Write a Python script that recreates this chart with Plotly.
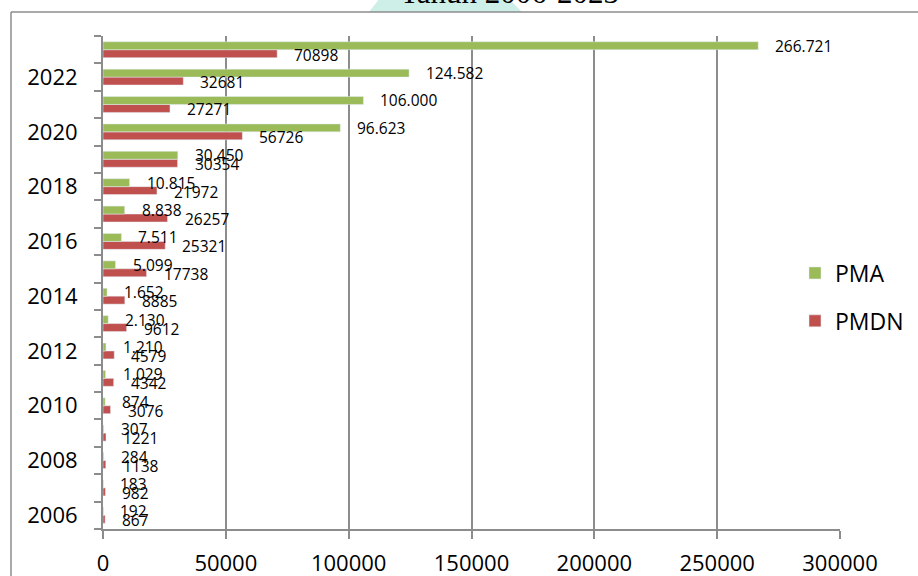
import plotly.graph_objects as go

# Investment realisation per year
years = list(range(2006, 2024))
pma = [192, 183, 284, 307, 874, 1029, 1210, 2130, 1652, 5099,
       7511, 8838, 10815, 30450, 96623, 106000, 124582, 266721]
pmdn = [867, 982, 1138, 1221, 3076, 4342, 4579, 9612, 8885, 17738,
        25321, 26257, 21972, 30354, 56726, 27271, 32681, 70898]
x_ticks = [0, 50000, 100000, 150000, 200000, 250000, 300000]
y_ticks = list(range(2006, 2023, 2))

GREEN = "#9BBB59"
RED = "#C0504D"
GRID = "#8C8C8C"
FONT = "Open Sans"


def dotted(v):
    return f"{v:,}".replace(",", ".")


fig = go.Figure()
fig.add_trace(go.Bar(y=years, x=pmdn, orientation="h", name="PMDN",
                     marker_color=RED, legendgroup="b", legendrank=2))
fig.add_trace(go.Bar(y=years, x=pma, orientation="h", name="PMA",
                     marker_color=GREEN, legendgroup="a", legendrank=1))

annotations = []
for y, v in zip(years, pma):
    annotations.append(dict(x=v, y=y, text=dotted(v), showarrow=False,
                            xanchor="left", yanchor="middle", xshift=15, yshift=4,
                            font=dict(family=FONT, size=15.5, color="black")))
for y, v in zip(years, pmdn):
    annotations.append(dict(x=v, y=y, text=str(v), showarrow=False,
                            xanchor="left", yanchor="middle", xshift=15, yshift=-5,
                            font=dict(family=FONT, size=15.5, color="black")))

# Title partly cut off by the top edge of the page
annotations.append(dict(xref="paper", yref="paper", x=0.552, y=1.089,
                        text="Tahun 2006-2023", showarrow=False,
                        xanchor="center", yanchor="middle",
                        font=dict(family="Liberation Serif", size=31, color="black")))

L, R, T, B = 103, 78, 36, 47
W, H = 918, 576
pw, ph = W - L - R, H - T - B


def px(x):
    return (x - L) / pw


def py(y):
    return (H - B - y) / ph


shapes = [
    # faint decoration behind the title
    dict(type="path", xref="paper", yref="paper", layer="below",
         path=f"M {px(380)} {py(-2)} L {px(508)} {py(-2)} L {px(522)} {py(12)} L {px(369)} {py(12)} Z",
         fillcolor="#CDEFE8", line=dict(width=0)),
    # outer frame
    dict(type="line", xref="paper", yref="paper", x0=px(11), x1=px(925),
         y0=py(12), y1=py(12), line=dict(color=GRID, width=1.5)),
    dict(type="line", xref="paper", yref="paper", x0=px(11), x1=px(11),
         y0=py(12), y1=py(590), line=dict(color=GRID, width=1.5)),
]

fig.update_layout(
    width=W, height=H,
    margin=dict(l=L, r=R, t=T, b=B, pad=0, autoexpand=False),
    paper_bgcolor="white", plot_bgcolor="white",
    barmode="group", bargap=0.42, bargroupgap=0,
    showlegend=True,
    legend=dict(x=px(795), y=py(297), xanchor="left", yanchor="middle",
                traceorder="grouped", tracegroupgap=15,
                font=dict(family=FONT, size=23, color="black"),
                bgcolor="rgba(0,0,0,0)"),
    annotations=annotations,
    shapes=shapes,
    font=dict(family=FONT, color="black"),
)

fig.update_xaxes(range=[0, 300000], tickvals=x_ticks,
                 ticktext=[str(v) for v in x_ticks],
                 showgrid=True, gridcolor=GRID, gridwidth=2,
                 ticks="outside", ticklen=8, tickwidth=2, tickcolor=GRID,
                 showline=True, linecolor=GRID, linewidth=2,
                 zeroline=False, ticklabelstandoff=6, automargin=False,
                 tickfont=dict(family=FONT, size=22, color="black"))

fig.update_yaxes(range=[2005.5, 2023.5], tickvals=y_ticks,
                 ticktext=[str(v) for v in y_ticks],
                 showgrid=False, ticks="", zeroline=False,
                 showline=True, linecolor=GRID, linewidth=2,
                 minor=dict(ticks="outside", tick0=2005.5, dtick=1, ticklen=7,
                            tickwidth=2, tickcolor=GRID, showgrid=False),
                 ticklabelstandoff=19, automargin=False,
                 tickfont=dict(family=FONT, size=22, color="black"))

fig.update_traces(cliponaxis=False)

fig.write_html("out.html")
